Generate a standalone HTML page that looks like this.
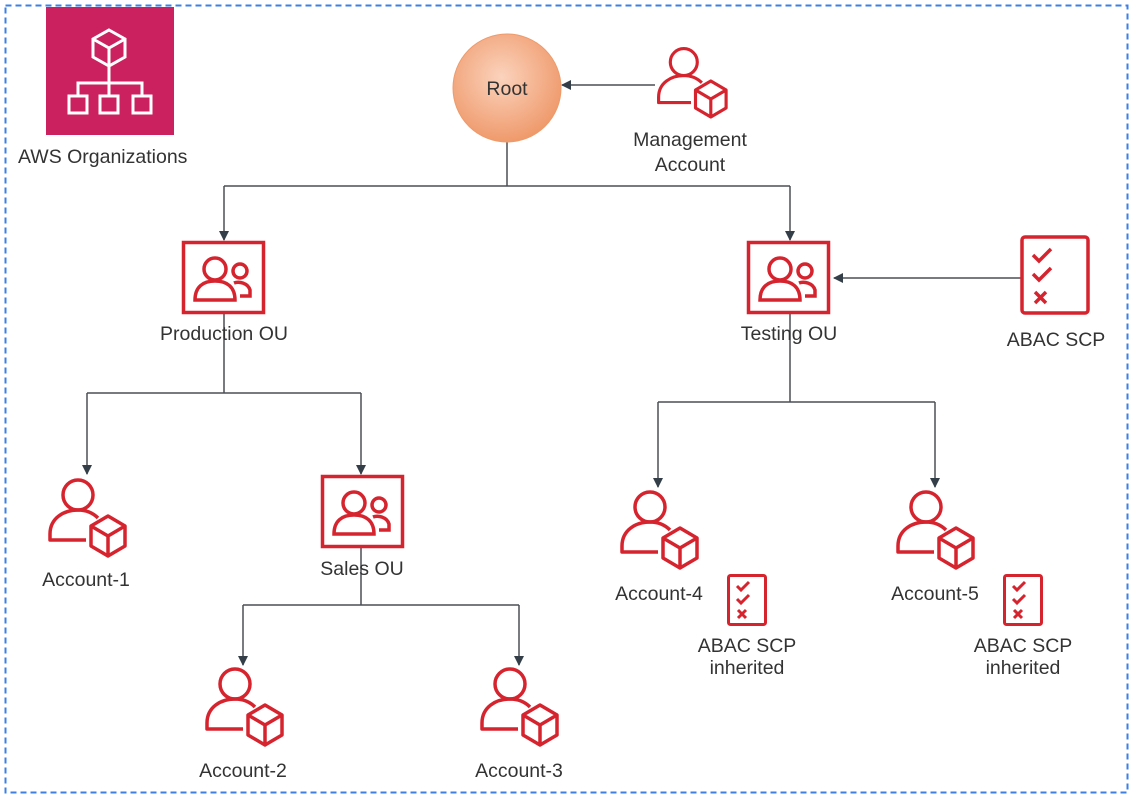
<!DOCTYPE html>
<html><head><meta charset="utf-8"><style>
body{margin:0;background:#fff}
svg{display:block}
text{font-family:"Liberation Sans",sans-serif;fill:#333;font-size:19.5px}
</style></head><body>
<svg width="1136" height="797" viewBox="0 0 1136 797">
<defs>
<radialGradient id="rg" cx="0.45" cy="0.4" r="0.6"><stop offset="0" stop-color="#fbd3bd"/><stop offset="1" stop-color="#ef9a6c"/></radialGradient>
<marker id="ar" markerWidth="10" markerHeight="10" refX="9" refY="5" orient="auto" markerUnits="userSpaceOnUse"><path d="M0,0 L10,5 L0,10 z" fill="#333e48"/></marker>
<g id="acc" fill="none" stroke="#d6242f" stroke-width="3.5" stroke-linejoin="round">
<circle cx="32" cy="19" r="15"/>
<path d="M40,64 H4 V58 C4,42 18,34 32,34 C40,34 47,37 52,42"/>
<path d="M62,40 L79,50 L79,70 L62,80 L45,70 L45,50 Z M45,50 L62,60 L79,50 M62,60 V80"/>
</g>
<g id="ou" fill="none" stroke="#d6242f" stroke-width="3.5">
<rect x="1.5" y="1.5" width="80" height="70"/>
<circle cx="33" cy="28" r="11"/>
<path d="M13,59 C13,46 21,40 33,40 C45,40 53,46 53,59 Z"/>
<circle cx="58" cy="30" r="7"/>
<path d="M52,42 C57,40 66,42 68,49 V55 H58"/>
</g>
<g id="scp" fill="none" stroke="#d6242f" stroke-width="3">
<rect x="1.5" y="1.5" width="37" height="49" rx="2"/>
<path d="M10,12 l4,4 l8,-8 M10,25 l4,4 l8,-8 M11,36 l8,8 M19,36 l-8,8"/>
</g>
</defs>
<rect x="5.5" y="5.5" width="1122" height="787" fill="none" stroke="#3d7fe6" stroke-width="2" stroke-dasharray="6,4"/>
<rect x="46" y="7" width="128" height="128" fill="#cb215e"/>
<g fill="none" stroke="#fff" stroke-width="3">
<path d="M109,30 L125,39 L125,57 L109,66 L93,57 L93,39 Z M93,39 L109,48 L125,39 M109,48 V66"/>
<path d="M109,66 V83 M78,96 V83 H142 V96 M109,83 V96"/>
<rect x="69" y="96" width="18" height="17"/><rect x="100" y="96" width="18" height="17"/><rect x="133" y="96" width="18" height="17"/>
</g>
<text x="18" y="163">AWS Organizations</text>
<g fill="none" stroke="#4a4f55" stroke-width="1.5">
<path d="M507,142 V186 M224,186 H790"/>
<path d="M224,186 V240" marker-end="url(#ar)"/><path d="M790,186 V240" marker-end="url(#ar)"/>
<path d="M655,85 H562" marker-end="url(#ar)"/>
<path d="M1021,278 H834" marker-end="url(#ar)"/>
<path d="M224,313 V393 M87,393 H361"/>
<path d="M87,393 V474" marker-end="url(#ar)"/><path d="M361,393 V474" marker-end="url(#ar)"/>
<path d="M361,547 V605 M243,605 H519"/>
<path d="M243,605 V665" marker-end="url(#ar)"/><path d="M519,605 V665" marker-end="url(#ar)"/>
<path d="M790,313 V402 M658,402 H935"/>
<path d="M658,402 V487" marker-end="url(#ar)"/><path d="M935,402 V487" marker-end="url(#ar)"/>
</g>
<circle cx="507" cy="88" r="54" fill="url(#rg)" stroke="#ee9a6b"/>
<text x="507" y="95" text-anchor="middle" font-size="22">Root</text>
<use href="#acc" transform="translate(655,45) scale(0.9)"/>
<text x="690" y="146" text-anchor="middle">Management</text>
<text x="690" y="171" text-anchor="middle">Account</text>
<use href="#ou" x="182" y="241"/>
<text x="224" y="340" text-anchor="middle">Production OU</text>
<use href="#ou" x="747" y="241"/>
<text x="789" y="340" text-anchor="middle">Testing OU</text>
<g fill="none" stroke="#d6242f" stroke-width="3.5">
<rect x="1022" y="237" width="66" height="76" rx="3"/>
<path d="M1033,255 l6,6 l12,-12 M1033,274 l6,6 l12,-12 M1035,292 l11,11 M1046,292 l-11,11"/>
</g>
<text x="1056" y="346" text-anchor="middle">ABAC SCP</text>
<use href="#acc" x="46" y="476"/>
<text x="86" y="586" text-anchor="middle">Account-1</text>
<use href="#ou" x="321" y="475"/>
<text x="362" y="575" text-anchor="middle">Sales OU</text>
<use href="#acc" x="203" y="665"/>
<text x="243" y="777" text-anchor="middle">Account-2</text>
<use href="#acc" x="478" y="665"/>
<text x="519" y="777" text-anchor="middle">Account-3</text>
<use href="#acc" x="618" y="488"/>
<text x="659" y="600" text-anchor="middle">Account-4</text>
<use href="#scp" x="727" y="574"/>
<text x="747" y="652" text-anchor="middle" font-size="17.5">ABAC SCP</text>
<text x="747" y="674" text-anchor="middle" font-size="17.5">inherited</text>
<use href="#acc" x="894" y="488"/>
<text x="935" y="600" text-anchor="middle">Account-5</text>
<use href="#scp" x="1003" y="574"/>
<text x="1023" y="652" text-anchor="middle" font-size="17.5">ABAC SCP</text>
<text x="1023" y="674" text-anchor="middle" font-size="17.5">inherited</text>
</svg>
</body></html>
